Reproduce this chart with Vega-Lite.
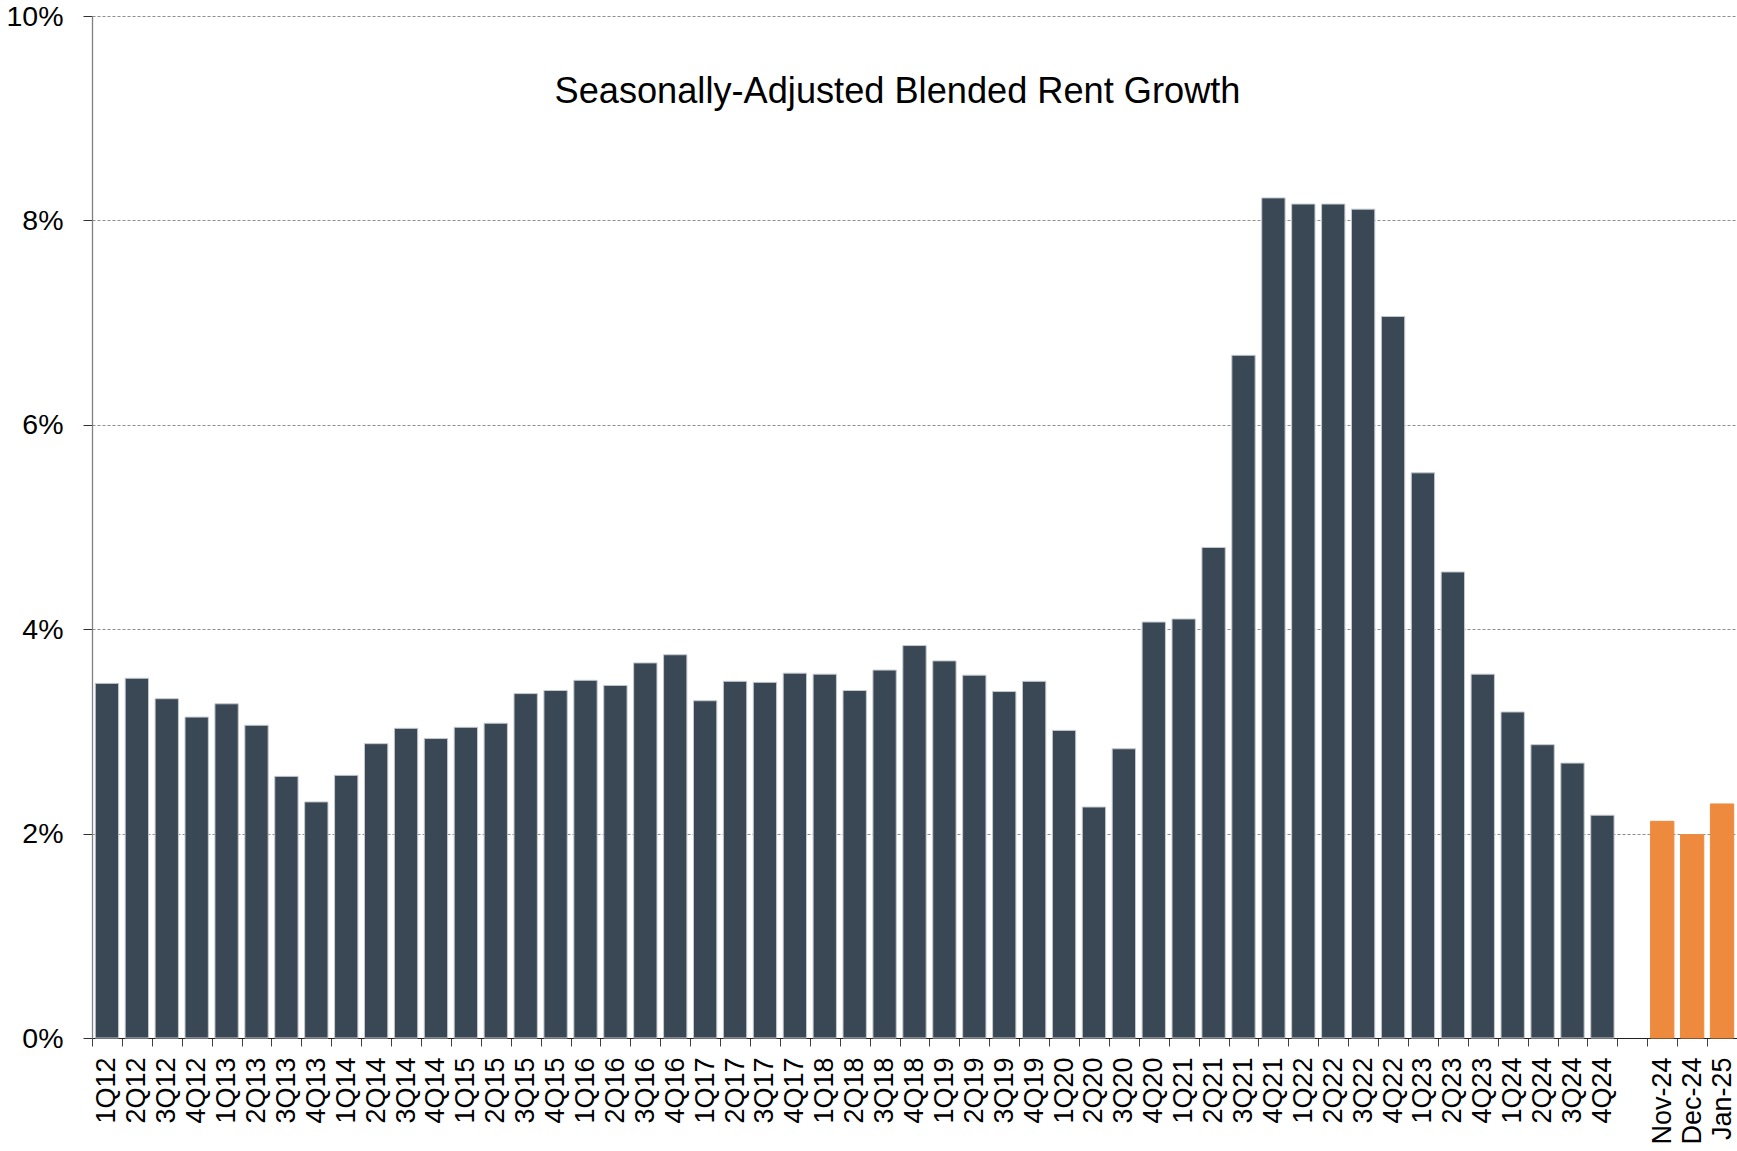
{
  "$schema": "https://vega.github.io/schema/vega-lite/v6.json",
  "width": 1645,
  "height": 1022,
  "autosize": "none",
  "padding": {"left": 92, "top": 16, "right": 0, "bottom": 113},
  "background": "white",
  "title": {
    "text": "Seasonally-Adjusted Blended Rent Growth",
    "font": "Liberation Sans",
    "fontSize": 36.2,
    "fontWeight": "normal",
    "color": "#000000",
    "anchor": "middle",
    "dx": -17,
    "offset": -108
  },
  "config": {
    "view": {"stroke": null},
    "font": "Liberation Sans"
  },
  "data": {
    "values": [
      {"period": "1Q12", "growth": 3.47, "type": "Quarterly"},
      {"period": "2Q12", "growth": 3.52, "type": "Quarterly"},
      {"period": "3Q12", "growth": 3.32, "type": "Quarterly"},
      {"period": "4Q12", "growth": 3.14, "type": "Quarterly"},
      {"period": "1Q13", "growth": 3.27, "type": "Quarterly"},
      {"period": "2Q13", "growth": 3.06, "type": "Quarterly"},
      {"period": "3Q13", "growth": 2.56, "type": "Quarterly"},
      {"period": "4Q13", "growth": 2.31, "type": "Quarterly"},
      {"period": "1Q14", "growth": 2.57, "type": "Quarterly"},
      {"period": "2Q14", "growth": 2.88, "type": "Quarterly"},
      {"period": "3Q14", "growth": 3.03, "type": "Quarterly"},
      {"period": "4Q14", "growth": 2.93, "type": "Quarterly"},
      {"period": "1Q15", "growth": 3.04, "type": "Quarterly"},
      {"period": "2Q15", "growth": 3.08, "type": "Quarterly"},
      {"period": "3Q15", "growth": 3.37, "type": "Quarterly"},
      {"period": "4Q15", "growth": 3.40, "type": "Quarterly"},
      {"period": "1Q16", "growth": 3.50, "type": "Quarterly"},
      {"period": "2Q16", "growth": 3.45, "type": "Quarterly"},
      {"period": "3Q16", "growth": 3.67, "type": "Quarterly"},
      {"period": "4Q16", "growth": 3.75, "type": "Quarterly"},
      {"period": "1Q17", "growth": 3.30, "type": "Quarterly"},
      {"period": "2Q17", "growth": 3.49, "type": "Quarterly"},
      {"period": "3Q17", "growth": 3.48, "type": "Quarterly"},
      {"period": "4Q17", "growth": 3.57, "type": "Quarterly"},
      {"period": "1Q18", "growth": 3.56, "type": "Quarterly"},
      {"period": "2Q18", "growth": 3.40, "type": "Quarterly"},
      {"period": "3Q18", "growth": 3.60, "type": "Quarterly"},
      {"period": "4Q18", "growth": 3.84, "type": "Quarterly"},
      {"period": "1Q19", "growth": 3.69, "type": "Quarterly"},
      {"period": "2Q19", "growth": 3.55, "type": "Quarterly"},
      {"period": "3Q19", "growth": 3.39, "type": "Quarterly"},
      {"period": "4Q19", "growth": 3.49, "type": "Quarterly"},
      {"period": "1Q20", "growth": 3.01, "type": "Quarterly"},
      {"period": "2Q20", "growth": 2.26, "type": "Quarterly"},
      {"period": "3Q20", "growth": 2.83, "type": "Quarterly"},
      {"period": "4Q20", "growth": 4.07, "type": "Quarterly"},
      {"period": "1Q21", "growth": 4.10, "type": "Quarterly"},
      {"period": "2Q21", "growth": 4.80, "type": "Quarterly"},
      {"period": "3Q21", "growth": 6.68, "type": "Quarterly"},
      {"period": "4Q21", "growth": 8.22, "type": "Quarterly"},
      {"period": "1Q22", "growth": 8.16, "type": "Quarterly"},
      {"period": "2Q22", "growth": 8.16, "type": "Quarterly"},
      {"period": "3Q22", "growth": 8.11, "type": "Quarterly"},
      {"period": "4Q22", "growth": 7.06, "type": "Quarterly"},
      {"period": "1Q23", "growth": 5.53, "type": "Quarterly"},
      {"period": "2Q23", "growth": 4.56, "type": "Quarterly"},
      {"period": "4Q23", "growth": 3.56, "type": "Quarterly"},
      {"period": "1Q24", "growth": 3.19, "type": "Quarterly"},
      {"period": "2Q24", "growth": 2.87, "type": "Quarterly"},
      {"period": "3Q24", "growth": 2.69, "type": "Quarterly"},
      {"period": "4Q24", "growth": 2.18, "type": "Quarterly"},
      {"period": "Nov-24", "growth": 2.12, "type": "Monthly"},
      {"period": "Dec-24", "growth": 1.99, "type": "Monthly"},
      {"period": "Jan-25", "growth": 2.29, "type": "Monthly"}
    ]
  },
  "mark": {"type": "bar", "width": {"band": 0.78}, "strokeWidth": 1},
  "encoding": {
    "x": {
      "field": "period",
      "type": "nominal",
      "title": null,
      "scale": {
        "type": "band",
        "paddingInner": 0,
        "paddingOuter": 0,
        "domain": ["1Q12","2Q12","3Q12","4Q12","1Q13","2Q13","3Q13","4Q13","1Q14","2Q14","3Q14","4Q14","1Q15","2Q15","3Q15","4Q15","1Q16","2Q16","3Q16","4Q16","1Q17","2Q17","3Q17","4Q17","1Q18","2Q18","3Q18","4Q18","1Q19","2Q19","3Q19","4Q19","1Q20","2Q20","3Q20","4Q20","1Q21","2Q21","3Q21","4Q21","1Q22","2Q22","3Q22","4Q22","1Q23","2Q23","4Q23","1Q24","2Q24","3Q24","4Q24"," ","Nov-24","Dec-24","Jan-25"]
      },
      "axis": {
        "labelAngle": -90,
        "labelFontSize": 27,
        "labelFont": "Liberation Sans",
        "labelColor": "#000000",
        "labelPadding": 11,
        "tickSize": 8,
        "tickColor": "#404040",
        "tickWidth": 1,
        "tickBand": "extent",
        "domainColor": "#202020",
        "domainWidth": 1.2,
        "grid": false,
        "labelOverlap": false,
        "labelBound": false
      }
    },
    "y": {
      "field": "growth",
      "type": "quantitative",
      "title": null,
      "scale": {"domain": [0, 10], "nice": false},
      "axis": {
        "values": [0, 2, 4, 6, 8, 10],
        "labelExpr": "datum.value + '%'",
        "labelFontSize": 28.5,
        "labelFont": "Liberation Sans",
        "labelColor": "#000000",
        "labelPadding": 20,
        "tickSize": 9,
        "tickColor": "#303030",
        "domainColor": "#808080",
        "domainWidth": 1.3,
        "grid": true,
        "gridColor": "#707070",
        "gridWidth": 0.8,
        "gridDash": [3, 2],
        "labelBound": false
      }
    },
    "color": {
      "field": "type",
      "type": "nominal",
      "legend": null,
      "scale": {"domain": ["Quarterly", "Monthly"], "range": ["#3A4856", "#ED8A3E"]}
    },
    "stroke": {
      "field": "type",
      "type": "nominal",
      "legend": null,
      "scale": {"domain": ["Quarterly", "Monthly"], "range": ["#c4c9ce", "#ED8A3E"]}
    }
  }
}
